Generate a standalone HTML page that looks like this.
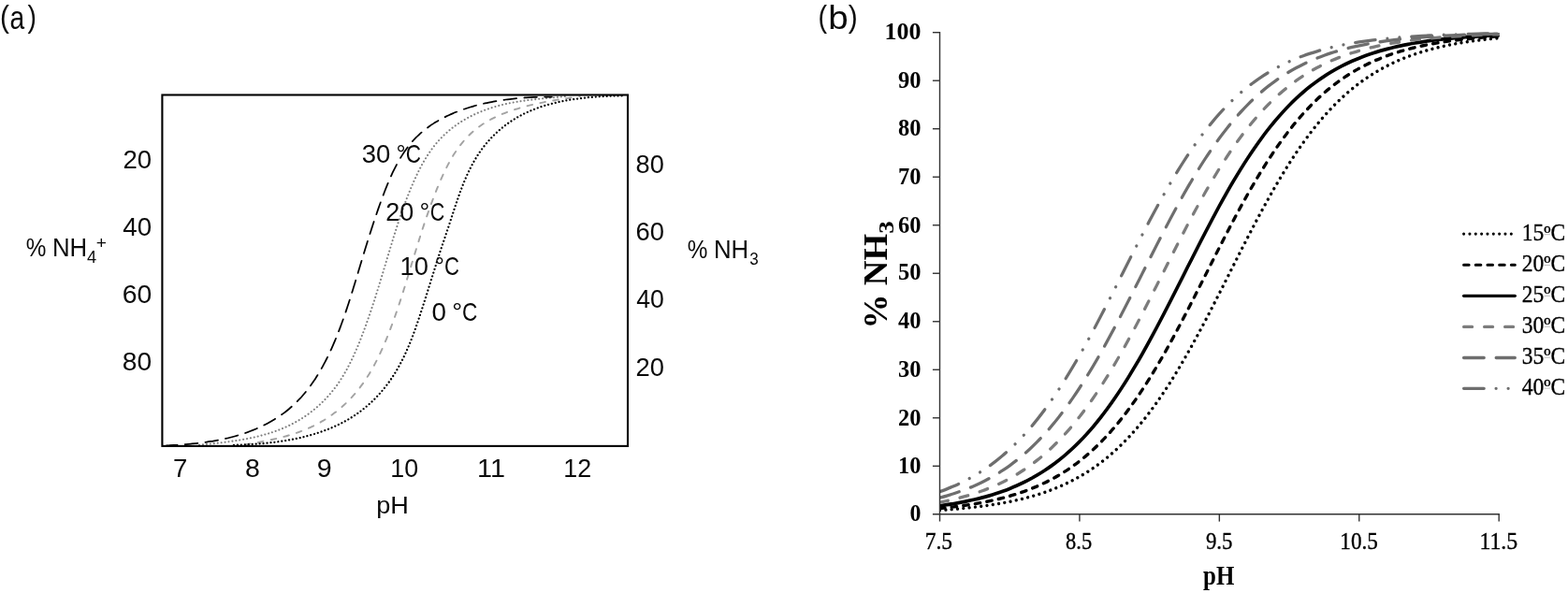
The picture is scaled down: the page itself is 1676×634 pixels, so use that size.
<!DOCTYPE html>
<html lang="en"><head><meta charset="utf-8"><title>Ammonia / ammonium equilibrium vs pH</title>
<style>html,body{margin:0;padding:0;background:#fff}body{width:1676px;height:634px;overflow:hidden}</style>
</head><body>
<svg width="1676" height="634" viewBox="0 0 1676 634" style="display:block">
<rect width="1676" height="634" fill="#fff"/>
<g id="chartA">
<g fill="none">
<path d="M261.93,475.38C262.57,475.27 264.47,474.96 265.75,474.74C267.03,474.52 268.31,474.30 269.59,474.08C270.87,473.86 272.15,473.63 273.44,473.40C274.73,473.17 276.03,472.94 277.32,472.70C278.61,472.46 279.90,472.21 281.20,471.96C282.50,471.71 283.79,471.45 285.09,471.19C286.39,470.93 287.68,470.66 288.98,470.38C290.28,470.10 291.57,469.81 292.87,469.52C294.17,469.22 295.46,468.92 296.76,468.61C298.06,468.30 299.35,467.97 300.64,467.64C301.93,467.31 303.22,466.97 304.51,466.62C305.80,466.27 307.08,465.90 308.36,465.53C309.64,465.15 310.92,464.77 312.19,464.37C313.46,463.97 314.73,463.56 315.99,463.13C317.25,462.70 318.51,462.27 319.77,461.82C321.02,461.37 322.27,460.89 323.52,460.41C324.76,459.93 326.01,459.43 327.24,458.92C328.47,458.41 329.69,457.88 330.91,457.33C332.13,456.78 333.34,456.23 334.54,455.65C335.74,455.07 336.94,454.47 338.13,453.85C339.32,453.23 340.49,452.60 341.66,451.95C342.83,451.30 343.99,450.62 345.14,449.93C346.29,449.24 347.44,448.54 348.57,447.81C349.70,447.08 350.82,446.34 351.93,445.58C353.04,444.82 354.13,444.05 355.22,443.26C356.31,442.47 357.38,441.66 358.45,440.84C359.51,440.02 360.57,439.18 361.61,438.33C362.65,437.48 363.67,436.61 364.68,435.73C365.69,434.85 366.69,433.96 367.68,433.06C368.67,432.16 369.63,431.24 370.59,430.31C371.55,429.38 372.49,428.44 373.42,427.49C374.35,426.54 375.25,425.58 376.15,424.60C377.04,423.62 377.93,422.63 378.79,421.64C379.65,420.64 380.50,419.64 381.33,418.63C382.16,417.62 382.99,416.59 383.79,415.56C384.60,414.53 385.38,413.49 386.16,412.44C386.94,411.39 387.70,410.33 388.45,409.26C389.20,408.19 389.94,407.11 390.66,406.03C391.39,404.94 392.10,403.85 392.80,402.75C393.50,401.65 394.18,400.54 394.86,399.42C395.54,398.30 396.20,397.17 396.86,396.04C397.52,394.91 398.17,393.77 398.80,392.62C399.44,391.47 400.06,390.32 400.67,389.16C401.29,388.00 401.89,386.83 402.49,385.66C403.09,384.49 403.68,383.31 404.26,382.13C404.84,380.94 405.41,379.75 405.97,378.55C406.53,377.35 407.09,376.16 407.64,374.95C408.19,373.74 408.73,372.53 409.27,371.31C409.81,370.09 410.34,368.87 410.86,367.64C411.38,366.41 411.91,365.19 412.42,363.95C412.93,362.71 413.44,361.48 413.94,360.23C414.44,358.99 414.94,357.73 415.43,356.48C415.92,355.23 416.41,353.98 416.89,352.72C417.37,351.46 417.85,350.19 418.32,348.93C418.79,347.67 419.26,346.40 419.73,345.13C420.20,343.86 420.66,342.59 421.11,341.32C421.56,340.05 422.01,338.77 422.46,337.49C422.91,336.21 423.36,334.93 423.80,333.65C424.24,332.37 424.68,331.09 425.11,329.80C425.54,328.51 425.97,327.23 426.40,325.94C426.83,324.65 427.25,323.37 427.67,322.08C428.09,320.79 428.50,319.50 428.92,318.21C429.34,316.92 429.75,315.64 430.16,314.35C430.57,313.06 430.98,311.77 431.38,310.48C431.78,309.19 432.19,307.91 432.59,306.62C432.99,305.33 433.38,304.05 433.78,302.77C434.17,301.49 434.57,300.20 434.96,298.92C435.35,297.64 435.75,296.36 436.14,295.08C436.53,293.80 436.92,292.53 437.31,291.25C437.70,289.97 438.09,288.69 438.47,287.42C438.86,286.15 439.24,284.88 439.62,283.61C440.00,282.34 440.39,281.08 440.78,279.81C441.16,278.54 441.55,277.27 441.93,276.01C442.31,274.75 442.69,273.48 443.08,272.22C443.46,270.96 443.85,269.69 444.24,268.43C444.63,267.17 445.01,265.92 445.40,264.66C445.79,263.40 446.18,262.14 446.57,260.88C446.96,259.62 447.35,258.37 447.74,257.11C448.13,255.86 448.53,254.60 448.93,253.35C449.33,252.10 449.72,250.84 450.12,249.59C450.52,248.34 450.92,247.08 451.33,245.83C451.74,244.58 452.15,243.33 452.56,242.08C452.97,240.83 453.38,239.57 453.80,238.32C454.22,237.07 454.64,235.82 455.06,234.57C455.48,233.32 455.91,232.07 456.34,230.82C456.77,229.57 457.20,228.32 457.64,227.07C458.08,225.82 458.51,224.57 458.96,223.32C459.41,222.07 459.86,220.82 460.32,219.57C460.78,218.32 461.24,217.06 461.70,215.81C462.16,214.56 462.63,213.31 463.10,212.06C463.57,210.81 464.05,209.55 464.54,208.30C465.03,207.05 465.52,205.79 466.02,204.54C466.52,203.29 467.01,202.03 467.52,200.78C468.03,199.53 468.55,198.28 469.07,197.03C469.59,195.78 470.12,194.53 470.66,193.29C471.20,192.04 471.74,190.80 472.30,189.56C472.86,188.32 473.43,187.10 474.00,185.87C474.57,184.64 475.16,183.41 475.75,182.20C476.34,180.98 476.95,179.78 477.56,178.58C478.17,177.38 478.79,176.18 479.43,175.00C480.07,173.82 480.72,172.64 481.38,171.48C482.04,170.31 482.71,169.15 483.40,168.01C484.08,166.87 484.78,165.73 485.49,164.61C486.20,163.49 486.93,162.38 487.67,161.29C488.41,160.19 489.17,159.11 489.94,158.04C490.71,156.97 491.50,155.92 492.30,154.88C493.10,153.84 493.92,152.82 494.75,151.82C495.58,150.81 496.44,149.82 497.31,148.85C498.18,147.88 499.06,146.93 499.96,145.99C500.86,145.06 501.79,144.14 502.73,143.24C503.67,142.34 504.62,141.47 505.60,140.61C506.58,139.76 507.58,138.92 508.60,138.11C509.62,137.30 510.65,136.51 511.70,135.74C512.75,134.97 513.83,134.21 514.92,133.48C516.01,132.75 517.11,132.04 518.23,131.35C519.35,130.66 520.48,129.99 521.63,129.33C522.78,128.68 523.94,128.04 525.12,127.42C526.30,126.80 527.49,126.21 528.69,125.62C529.89,125.03 531.10,124.46 532.32,123.91C533.54,123.36 534.78,122.83 536.02,122.31C537.26,121.79 538.51,121.28 539.77,120.79C541.03,120.30 542.30,119.83 543.57,119.37C544.84,118.91 546.12,118.45 547.40,118.02C548.68,117.58 549.98,117.17 551.27,116.76C552.56,116.35 553.87,115.96 555.17,115.58C556.47,115.20 557.78,114.82 559.08,114.46C560.38,114.10 561.69,113.75 563.00,113.41C564.31,113.07 565.63,112.75 566.94,112.43C568.25,112.11 569.57,111.80 570.88,111.50C572.19,111.20 573.52,110.91 574.83,110.63C576.14,110.35 577.45,110.08 578.77,109.81C580.09,109.54 581.40,109.28 582.72,109.03C584.04,108.78 585.35,108.54 586.66,108.30C587.97,108.06 589.29,107.83 590.60,107.60C591.91,107.37 593.21,107.15 594.52,106.93C595.83,106.71 597.14,106.51 598.44,106.30C599.74,106.09 601.04,105.89 602.34,105.69C603.64,105.49 604.93,105.28 606.22,105.09C607.51,104.90 608.80,104.71 610.08,104.52C611.36,104.33 612.64,104.14 613.92,103.95C615.19,103.76 616.74,103.55 617.73,103.40C618.72,103.26 619.50,103.13 619.86,103.08" stroke="#a3a3a3" stroke-width="1.9" stroke-dasharray="5.7 8.4" stroke-dashoffset="0" stroke-linecap="round"/>
<path d="M213.00,475.72C213.63,475.66 215.53,475.46 216.81,475.33C218.09,475.20 219.37,475.06 220.65,474.93C221.94,474.80 223.23,474.66 224.52,474.53C225.81,474.39 227.11,474.26 228.41,474.12C229.71,473.98 231.01,473.84 232.32,473.69C233.63,473.54 234.94,473.39 236.25,473.24C237.56,473.09 238.88,472.93 240.19,472.76C241.50,472.59 242.82,472.43 244.14,472.25C245.46,472.07 246.79,471.89 248.11,471.70C249.43,471.51 250.75,471.32 252.07,471.12C253.39,470.92 254.71,470.71 256.03,470.49C257.35,470.27 258.68,470.05 260.00,469.81C261.32,469.57 262.63,469.33 263.95,469.08C265.27,468.83 266.59,468.57 267.90,468.30C269.21,468.03 270.52,467.75 271.83,467.45C273.14,467.15 274.45,466.85 275.75,466.53C277.05,466.21 278.35,465.89 279.64,465.55C280.93,465.21 282.22,464.86 283.51,464.49C284.80,464.12 286.08,463.75 287.36,463.35C288.64,462.96 289.91,462.54 291.17,462.12C292.44,461.70 293.70,461.26 294.95,460.81C296.20,460.36 297.45,459.88 298.69,459.40C299.93,458.91 301.17,458.42 302.40,457.90C303.63,457.38 304.85,456.84 306.06,456.29C307.27,455.74 308.48,455.17 309.67,454.58C310.87,453.99 312.05,453.39 313.23,452.77C314.41,452.15 315.57,451.50 316.73,450.84C317.89,450.18 319.04,449.51 320.18,448.82C321.32,448.13 322.45,447.42 323.57,446.70C324.69,445.98 325.79,445.24 326.89,444.48C327.99,443.73 329.07,442.96 330.14,442.17C331.21,441.38 332.27,440.58 333.32,439.77C334.37,438.95 335.41,438.12 336.43,437.28C337.45,436.43 338.46,435.57 339.46,434.70C340.46,433.83 341.44,432.94 342.41,432.04C343.38,431.14 344.33,430.23 345.27,429.30C346.21,428.37 347.13,427.43 348.04,426.47C348.95,425.52 349.85,424.55 350.73,423.57C351.61,422.59 352.47,421.60 353.31,420.60C354.15,419.60 354.99,418.58 355.80,417.55C356.62,416.52 357.41,415.49 358.20,414.44C358.99,413.39 359.75,412.33 360.51,411.26C361.27,410.19 362.01,409.11 362.74,408.02C363.47,406.93 364.18,405.83 364.88,404.72C365.58,403.61 366.27,402.50 366.95,401.37C367.63,400.25 368.29,399.11 368.94,397.97C369.59,396.83 370.24,395.68 370.87,394.52C371.50,393.36 372.12,392.20 372.73,391.03C373.34,389.86 373.94,388.68 374.53,387.49C375.12,386.31 375.70,385.12 376.27,383.92C376.84,382.73 377.40,381.52 377.95,380.32C378.50,379.12 379.05,377.90 379.59,376.69C380.13,375.48 380.66,374.25 381.18,373.03C381.70,371.81 382.22,370.58 382.73,369.35C383.24,368.12 383.74,366.88 384.24,365.65C384.74,364.41 385.22,363.18 385.71,361.94C386.19,360.70 386.67,359.45 387.15,358.21C387.63,356.96 388.10,355.72 388.57,354.47C389.04,353.22 389.49,351.98 389.95,350.73C390.41,349.48 390.87,348.23 391.32,346.98C391.77,345.73 392.22,344.47 392.66,343.22C393.10,341.97 393.55,340.72 393.98,339.46C394.42,338.20 394.84,336.94 395.27,335.68C395.70,334.42 396.13,333.17 396.55,331.91C396.97,330.65 397.39,329.38 397.81,328.12C398.23,326.86 398.64,325.59 399.05,324.33C399.46,323.07 399.87,321.81 400.28,320.54C400.69,319.28 401.10,318.01 401.50,316.74C401.90,315.47 402.30,314.20 402.70,312.93C403.10,311.66 403.50,310.40 403.89,309.13C404.28,307.86 404.68,306.58 405.07,305.31C405.46,304.04 405.85,302.77 406.24,301.50C406.63,300.23 407.01,298.95 407.40,297.68C407.79,296.41 408.17,295.12 408.56,293.85C408.95,292.58 409.34,291.30 409.72,290.03C410.11,288.75 410.49,287.48 410.87,286.20C411.25,284.92 411.64,283.65 412.02,282.37C412.40,281.09 412.78,279.82 413.16,278.54C413.54,277.26 413.93,275.99 414.31,274.71C414.69,273.43 415.07,272.16 415.46,270.88C415.84,269.60 416.23,268.32 416.62,267.04C417.01,265.76 417.39,264.49 417.78,263.21C418.17,261.93 418.55,260.66 418.94,259.38C419.33,258.10 419.73,256.83 420.12,255.55C420.51,254.27 420.90,253.00 421.30,251.72C421.70,250.44 422.10,249.16 422.50,247.89C422.90,246.61 423.30,245.34 423.71,244.07C424.12,242.80 424.53,241.53 424.94,240.26C425.35,238.99 425.77,237.73 426.19,236.46C426.61,235.19 427.02,233.93 427.45,232.66C427.88,231.39 428.31,230.13 428.74,228.87C429.18,227.61 429.62,226.36 430.06,225.10C430.50,223.84 430.94,222.58 431.39,221.33C431.84,220.08 432.30,218.83 432.76,217.58C433.22,216.33 433.69,215.08 434.16,213.84C434.63,212.60 435.11,211.36 435.59,210.12C436.07,208.88 436.56,207.65 437.05,206.42C437.54,205.19 438.05,203.96 438.55,202.73C439.06,201.50 439.56,200.28 440.08,199.06C440.60,197.84 441.13,196.62 441.66,195.41C442.19,194.20 442.72,193.00 443.27,191.79C443.82,190.58 444.38,189.38 444.94,188.18C445.50,186.98 446.07,185.80 446.65,184.61C447.23,183.42 447.82,182.24 448.42,181.06C449.02,179.88 449.63,178.72 450.25,177.56C450.87,176.40 451.50,175.25 452.15,174.10C452.80,172.95 453.46,171.82 454.13,170.69C454.80,169.56 455.48,168.44 456.18,167.33C456.88,166.22 457.60,165.13 458.33,164.04C459.06,162.95 459.81,161.88 460.57,160.81C461.33,159.74 462.11,158.68 462.91,157.64C463.71,156.60 464.52,155.57 465.35,154.56C466.18,153.55 467.03,152.54 467.89,151.55C468.75,150.56 469.63,149.59 470.53,148.63C471.42,147.67 472.33,146.73 473.26,145.80C474.19,144.87 475.13,143.96 476.09,143.06C477.05,142.16 478.02,141.29 479.01,140.43C480.00,139.57 481.00,138.73 482.01,137.91C483.02,137.09 484.06,136.28 485.10,135.49C486.14,134.70 487.20,133.93 488.27,133.18C489.34,132.43 490.42,131.70 491.52,130.99C492.62,130.28 493.73,129.58 494.85,128.90C495.97,128.22 497.10,127.55 498.24,126.91C499.38,126.27 500.53,125.64 501.70,125.03C502.87,124.42 504.05,123.83 505.23,123.25C506.42,122.67 507.61,122.11 508.81,121.57C510.01,121.02 511.22,120.49 512.44,119.98C513.66,119.47 514.89,118.98 516.13,118.50C517.37,118.02 518.62,117.55 519.87,117.10C521.12,116.65 522.38,116.22 523.64,115.80C524.90,115.38 526.18,114.98 527.46,114.59C528.74,114.20 530.02,113.82 531.31,113.46C532.60,113.10 533.89,112.76 535.19,112.43C536.49,112.10 537.79,111.78 539.10,111.47C540.41,111.16 541.72,110.88 543.04,110.60C544.36,110.32 545.67,110.06 546.99,109.81C548.31,109.56 549.64,109.31 550.96,109.08C552.28,108.85 553.60,108.63 554.93,108.42C556.26,108.21 557.59,108.00 558.92,107.81C560.25,107.62 561.58,107.43 562.91,107.25C564.24,107.07 565.57,106.90 566.90,106.74C568.23,106.58 569.55,106.42 570.88,106.27C572.21,106.12 573.53,105.98 574.86,105.84C576.19,105.70 577.51,105.56 578.83,105.43C580.15,105.30 581.46,105.17 582.77,105.04C584.08,104.91 585.39,104.79 586.70,104.67C588.01,104.55 589.31,104.43 590.61,104.31C591.91,104.19 593.19,104.07 594.48,103.95C595.77,103.83 597.05,103.71 598.33,103.59C599.61,103.47 600.91,103.34 602.14,103.22C603.37,103.10 605.11,102.92 605.70,102.86" stroke="#7f7f7f" stroke-width="2.1" stroke-dasharray="0.01 3.95" stroke-dashoffset="0" stroke-linecap="round"/>
<path d="M249.95,475.82C250.61,475.80 252.61,475.74 253.94,475.69C255.27,475.64 256.60,475.60 257.93,475.55C259.26,475.50 260.59,475.43 261.92,475.37C263.25,475.31 264.58,475.24 265.91,475.17C267.24,475.10 268.57,475.01 269.90,474.93C271.23,474.85 272.55,474.76 273.88,474.66C275.21,474.56 276.54,474.46 277.87,474.35C279.20,474.24 280.53,474.13 281.85,474.01C283.18,473.89 284.50,473.76 285.82,473.62C287.14,473.48 288.47,473.34 289.79,473.19C291.11,473.04 292.43,472.89 293.75,472.72C295.07,472.55 296.39,472.37 297.71,472.19C299.03,472.01 300.35,471.82 301.66,471.62C302.98,471.42 304.29,471.21 305.60,470.99C306.91,470.77 308.22,470.55 309.53,470.31C310.84,470.07 312.14,469.82 313.45,469.56C314.75,469.30 316.06,469.04 317.36,468.76C318.66,468.48 319.95,468.20 321.25,467.90C322.55,467.60 323.85,467.29 325.14,466.97C326.43,466.65 327.72,466.32 329.01,465.97C330.30,465.62 331.58,465.27 332.86,464.90C334.14,464.53 335.42,464.16 336.69,463.77C337.96,463.38 339.23,462.97 340.49,462.55C341.75,462.13 343.01,461.70 344.27,461.26C345.52,460.82 346.78,460.36 348.02,459.89C349.26,459.42 350.50,458.94 351.73,458.44C352.96,457.94 354.19,457.43 355.41,456.90C356.63,456.37 357.84,455.83 359.04,455.28C360.25,454.72 361.45,454.16 362.64,453.57C363.83,452.98 365.01,452.38 366.18,451.76C367.35,451.14 368.52,450.52 369.68,449.87C370.84,449.22 371.98,448.55 373.12,447.87C374.26,447.19 375.39,446.49 376.51,445.78C377.63,445.07 378.74,444.33 379.84,443.59C380.94,442.84 382.02,442.09 383.10,441.31C384.18,440.53 385.24,439.74 386.30,438.93C387.36,438.12 388.41,437.30 389.44,436.46C390.47,435.62 391.49,434.78 392.50,433.91C393.51,433.05 394.51,432.16 395.49,431.27C396.47,430.38 397.44,429.47 398.40,428.55C399.36,427.63 400.30,426.70 401.23,425.75C402.16,424.80 403.08,423.84 403.98,422.87C404.88,421.90 405.77,420.92 406.65,419.93C407.52,418.94 408.38,417.93 409.23,416.91C410.08,415.89 410.91,414.87 411.73,413.83C412.55,412.79 413.36,411.74 414.15,410.68C414.94,409.62 415.73,408.55 416.49,407.47C417.25,406.39 418.00,405.31 418.74,404.21C419.48,403.11 420.21,402.01 420.92,400.89C421.63,399.77 422.33,398.64 423.01,397.51C423.69,396.38 424.36,395.24 425.02,394.09C425.68,392.94 426.32,391.78 426.96,390.62C427.59,389.46 428.22,388.29 428.83,387.11C429.44,385.93 430.05,384.75 430.64,383.56C431.23,382.37 431.80,381.17 432.37,379.97C432.94,378.77 433.50,377.56 434.05,376.35C434.60,375.14 435.14,373.92 435.67,372.69C436.20,371.46 436.73,370.23 437.24,369.00C437.75,367.77 438.26,366.53 438.76,365.29C439.26,364.05 439.75,362.81 440.23,361.56C440.71,360.31 441.19,359.06 441.66,357.80C442.13,356.55 442.60,355.29 443.06,354.03C443.52,352.77 443.96,351.50 444.41,350.24C444.86,348.98 445.30,347.71 445.74,346.44C446.18,345.17 446.61,343.91 447.04,342.64C447.47,341.37 447.89,340.10 448.31,338.83C448.73,337.56 449.14,336.28 449.56,335.01C449.98,333.74 450.39,332.46 450.80,331.19C451.21,329.92 451.61,328.65 452.02,327.38C452.43,326.11 452.84,324.85 453.24,323.58C453.64,322.31 454.04,321.04 454.44,319.78C454.84,318.51 455.24,317.25 455.64,315.99C456.04,314.73 456.44,313.46 456.84,312.20C457.24,310.94 457.63,309.68 458.03,308.42C458.42,307.16 458.82,305.91 459.21,304.65C459.60,303.39 460.00,302.13 460.39,300.87C460.78,299.61 461.18,298.37 461.57,297.11C461.96,295.86 462.36,294.59 462.75,293.34C463.14,292.08 463.54,290.83 463.93,289.58C464.32,288.32 464.71,287.06 465.10,285.81C465.49,284.56 465.88,283.31 466.28,282.05C466.68,280.80 467.08,279.54 467.48,278.28C467.88,277.02 468.28,275.77 468.69,274.51C469.10,273.25 469.51,272.00 469.93,270.74C470.35,269.48 470.76,268.23 471.18,266.97C471.60,265.71 472.02,264.45 472.44,263.19C472.86,261.93 473.28,260.66 473.71,259.40C474.13,258.14 474.56,256.88 474.99,255.61C475.42,254.35 475.84,253.08 476.27,251.81C476.70,250.54 477.12,249.27 477.55,248.00C477.98,246.73 478.40,245.46 478.83,244.19C479.25,242.92 479.68,241.64 480.10,240.36C480.52,239.08 480.94,237.80 481.36,236.52C481.78,235.24 482.19,233.96 482.61,232.68C483.03,231.40 483.44,230.12 483.86,228.84C484.28,227.56 484.69,226.27 485.11,224.99C485.53,223.71 485.95,222.43 486.38,221.15C486.81,219.87 487.23,218.59 487.66,217.31C488.09,216.03 488.53,214.76 488.97,213.49C489.41,212.22 489.85,210.95 490.30,209.68C490.75,208.41 491.20,207.15 491.66,205.89C492.12,204.63 492.60,203.36 493.07,202.11C493.54,200.86 494.02,199.61 494.51,198.37C495.00,197.13 495.49,195.88 496.00,194.65C496.51,193.42 497.02,192.19 497.55,190.97C498.08,189.75 498.61,188.53 499.16,187.32C499.71,186.11 500.26,184.91 500.83,183.71C501.40,182.51 501.98,181.32 502.57,180.14C503.16,178.96 503.76,177.78 504.38,176.62C505.00,175.46 505.63,174.30 506.28,173.15C506.93,172.00 507.59,170.86 508.27,169.73C508.95,168.60 509.63,167.48 510.34,166.37C511.05,165.26 511.78,164.16 512.52,163.07C513.26,161.98 514.01,160.90 514.79,159.83C515.56,158.76 516.36,157.70 517.17,156.66C517.98,155.62 518.81,154.58 519.66,153.56C520.51,152.54 521.37,151.53 522.25,150.54C523.13,149.55 524.03,148.57 524.94,147.60C525.85,146.63 526.78,145.68 527.72,144.74C528.66,143.80 529.62,142.89 530.59,141.98C531.56,141.07 532.55,140.18 533.55,139.30C534.55,138.43 535.56,137.57 536.59,136.73C537.62,135.89 538.66,135.06 539.71,134.25C540.76,133.44 541.83,132.66 542.91,131.89C543.99,131.12 545.08,130.36 546.18,129.63C547.28,128.90 548.39,128.19 549.52,127.49C550.64,126.79 551.78,126.11 552.93,125.45C554.08,124.79 555.23,124.15 556.40,123.53C557.57,122.91 558.74,122.31 559.93,121.72C561.12,121.13 562.31,120.56 563.51,120.01C564.71,119.46 565.93,118.93 567.15,118.41C568.37,117.89 569.60,117.39 570.84,116.91C572.08,116.43 573.32,115.96 574.57,115.51C575.82,115.06 577.08,114.62 578.34,114.20C579.61,113.78 580.88,113.37 582.16,112.98C583.44,112.59 584.71,112.20 586.00,111.84C587.29,111.48 588.58,111.13 589.88,110.79C591.18,110.45 592.48,110.13 593.79,109.82C595.10,109.51 596.41,109.22 597.73,108.93C599.05,108.65 600.36,108.37 601.68,108.11C603.00,107.85 604.33,107.60 605.66,107.36C606.99,107.12 608.32,106.89 609.65,106.67C610.98,106.45 612.32,106.24 613.66,106.04C615.00,105.84 616.33,105.66 617.67,105.48C619.01,105.30 620.35,105.13 621.69,104.97C623.03,104.81 624.37,104.65 625.71,104.51C627.05,104.37 628.39,104.23 629.73,104.11C631.07,103.98 632.40,103.87 633.74,103.76C635.08,103.65 636.41,103.55 637.75,103.45C639.09,103.36 640.42,103.27 641.75,103.19C643.08,103.11 644.41,103.03 645.73,102.97C647.05,102.91 648.37,102.85 649.69,102.80C651.01,102.75 652.33,102.70 653.64,102.66C654.95,102.62 656.26,102.59 657.56,102.56C658.86,102.53 660.16,102.51 661.45,102.49C662.74,102.47 664.25,102.46 665.31,102.45C666.37,102.44 667.40,102.44 667.82,102.44" stroke="#000" stroke-width="2.25" stroke-dasharray="0.01 3.95" stroke-dashoffset="0" stroke-linecap="round"/>
<path d="M178.04,476.38C178.67,476.35 180.55,476.26 181.82,476.19C183.09,476.12 184.37,476.05 185.65,475.98C186.93,475.91 188.21,475.83 189.50,475.75C190.79,475.67 192.09,475.58 193.39,475.49C194.69,475.40 195.99,475.30 197.30,475.19C198.61,475.08 199.91,474.98 201.23,474.86C202.54,474.74 203.87,474.62 205.19,474.49C206.51,474.36 207.83,474.22 209.15,474.08C210.47,473.94 211.80,473.79 213.13,473.63C214.46,473.47 215.79,473.31 217.12,473.13C218.45,472.95 219.78,472.77 221.11,472.58C222.44,472.39 223.78,472.18 225.11,471.97C226.44,471.76 227.77,471.53 229.10,471.30C230.43,471.07 231.76,470.83 233.09,470.58C234.42,470.33 235.74,470.06 237.06,469.79C238.38,469.52 239.71,469.23 241.03,468.93C242.35,468.63 243.66,468.33 244.97,468.01C246.28,467.69 247.59,467.36 248.90,467.01C250.21,466.66 251.51,466.30 252.81,465.93C254.11,465.56 255.39,465.18 256.68,464.78C257.97,464.38 259.25,463.97 260.53,463.54C261.81,463.11 263.07,462.67 264.34,462.21C265.60,461.75 266.87,461.29 268.12,460.80C269.37,460.31 270.61,459.81 271.85,459.30C273.09,458.79 274.33,458.25 275.55,457.71C276.77,457.17 277.99,456.61 279.19,456.04C280.39,455.47 281.59,454.88 282.78,454.28C283.97,453.68 285.14,453.06 286.31,452.43C287.48,451.80 288.64,451.15 289.79,450.49C290.94,449.83 292.08,449.15 293.21,448.46C294.34,447.77 295.45,447.06 296.56,446.34C297.67,445.62 298.76,444.88 299.84,444.13C300.92,443.38 301.98,442.61 303.04,441.83C304.10,441.05 305.15,440.25 306.18,439.44C307.21,438.63 308.23,437.80 309.23,436.96C310.23,436.12 311.23,435.26 312.20,434.39C313.17,433.52 314.13,432.62 315.08,431.72C316.03,430.82 316.96,429.90 317.88,428.97C318.80,428.04 319.71,427.10 320.60,426.14C321.49,425.18 322.37,424.21 323.23,423.22C324.10,422.23 324.95,421.23 325.79,420.22C326.63,419.21 327.45,418.19 328.27,417.16C329.08,416.13 329.89,415.08 330.68,414.02C331.47,412.96 332.25,411.90 333.01,410.82C333.77,409.74 334.53,408.65 335.27,407.55C336.01,406.45 336.75,405.35 337.47,404.23C338.19,403.11 338.90,401.99 339.60,400.85C340.30,399.72 340.99,398.57 341.67,397.42C342.35,396.27 343.02,395.11 343.68,393.94C344.34,392.77 344.98,391.60 345.62,390.42C346.26,389.24 346.89,388.05 347.51,386.86C348.13,385.67 348.75,384.46 349.35,383.26C349.95,382.06 350.55,380.84 351.13,379.63C351.71,378.42 352.29,377.20 352.86,375.97C353.43,374.75 353.99,373.51 354.54,372.28C355.09,371.05 355.63,369.82 356.17,368.58C356.71,367.34 357.24,366.10 357.76,364.85C358.28,363.61 358.80,362.36 359.31,361.11C359.82,359.86 360.32,358.61 360.82,357.36C361.32,356.11 361.81,354.86 362.29,353.60C362.77,352.35 363.25,351.09 363.72,349.83C364.19,348.57 364.66,347.32 365.12,346.06C365.58,344.80 366.03,343.54 366.48,342.28C366.93,341.02 367.38,339.75 367.82,338.49C368.26,337.23 368.70,335.96 369.13,334.69C369.56,333.42 369.99,332.16 370.41,330.89C370.83,329.62 371.25,328.36 371.67,327.09C372.09,325.82 372.50,324.56 372.91,323.29C373.32,322.02 373.73,320.75 374.13,319.48C374.53,318.21 374.93,316.94 375.33,315.67C375.73,314.40 376.13,313.13 376.52,311.86C376.91,310.59 377.30,309.32 377.69,308.05C378.08,306.78 378.47,305.51 378.86,304.24C379.25,302.97 379.63,301.70 380.01,300.43C380.39,299.16 380.78,297.90 381.16,296.63C381.54,295.36 381.92,294.10 382.30,292.83C382.68,291.56 383.06,290.29 383.44,289.03C383.82,287.76 384.20,286.50 384.58,285.24C384.96,283.98 385.35,282.71 385.73,281.45C386.11,280.19 386.49,278.92 386.87,277.66C387.25,276.40 387.63,275.14 388.01,273.88C388.39,272.62 388.79,271.35 389.17,270.09C389.56,268.83 389.93,267.57 390.32,266.31C390.71,265.05 391.10,263.79 391.49,262.53C391.88,261.27 392.27,260.01 392.66,258.75C393.05,257.49 393.45,256.23 393.85,254.97C394.25,253.71 394.64,252.45 395.04,251.19C395.44,249.93 395.84,248.66 396.25,247.40C396.66,246.14 397.07,244.88 397.48,243.62C397.89,242.36 398.31,241.09 398.72,239.83C399.14,238.57 399.55,237.31 399.97,236.04C400.39,234.77 400.82,233.51 401.25,232.24C401.68,230.97 402.11,229.71 402.54,228.44C402.98,227.17 403.42,225.90 403.86,224.63C404.30,223.36 404.75,222.09 405.20,220.82C405.65,219.55 406.11,218.28 406.57,217.00C407.03,215.72 407.49,214.45 407.96,213.17C408.43,211.89 408.90,210.62 409.38,209.34C409.86,208.06 410.34,206.78 410.83,205.51C411.32,204.23 411.82,202.96 412.32,201.69C412.82,200.42 413.33,199.14 413.85,197.88C414.37,196.62 414.90,195.36 415.43,194.10C415.96,192.84 416.50,191.59 417.05,190.34C417.60,189.09 418.16,187.86 418.73,186.62C419.30,185.38 419.88,184.15 420.47,182.93C421.06,181.71 421.67,180.50 422.28,179.30C422.89,178.10 423.51,176.90 424.15,175.72C424.79,174.54 425.44,173.36 426.10,172.20C426.76,171.04 427.43,169.88 428.12,168.74C428.81,167.60 429.50,166.47 430.22,165.36C430.94,164.25 431.67,163.15 432.41,162.06C433.16,160.97 433.92,159.90 434.69,158.84C435.46,157.78 436.25,156.74 437.06,155.72C437.87,154.70 438.69,153.69 439.53,152.70C440.37,151.71 441.23,150.74 442.10,149.78C442.98,148.82 443.87,147.89 444.78,146.97C445.69,146.05 446.62,145.16 447.57,144.28C448.51,143.40 449.47,142.53 450.45,141.69C451.43,140.84 452.42,140.02 453.43,139.21C454.44,138.40 455.46,137.62 456.50,136.84C457.54,136.06 458.59,135.30 459.66,134.56C460.73,133.82 461.81,133.10 462.90,132.39C463.99,131.68 465.09,130.99 466.21,130.31C467.33,129.63 468.46,128.97 469.60,128.33C470.74,127.69 471.89,127.06 473.06,126.45C474.23,125.84 475.40,125.23 476.59,124.65C477.78,124.07 478.98,123.50 480.18,122.95C481.38,122.40 482.60,121.86 483.82,121.34C485.04,120.82 486.28,120.31 487.52,119.81C488.76,119.31 490.01,118.83 491.27,118.36C492.53,117.89 493.79,117.44 495.06,117.00C496.33,116.56 497.61,116.12 498.89,115.71C500.17,115.29 501.46,114.90 502.75,114.51C504.04,114.12 505.34,113.75 506.65,113.38C507.95,113.01 509.27,112.66 510.58,112.32C511.89,111.98 513.21,111.66 514.53,111.34C515.85,111.02 517.16,110.72 518.49,110.42C519.82,110.12 521.15,109.84 522.48,109.57C523.81,109.30 525.14,109.04 526.47,108.79C527.80,108.54 529.13,108.30 530.47,108.07C531.81,107.84 533.14,107.63 534.48,107.42C535.82,107.21 537.16,107.01 538.50,106.82C539.84,106.63 541.17,106.45 542.51,106.28C543.85,106.11 545.19,105.94 546.53,105.79C547.87,105.64 549.20,105.50 550.54,105.36C551.88,105.22 553.21,105.10 554.54,104.98C555.87,104.86 557.21,104.75 558.54,104.65C559.87,104.55 561.19,104.45 562.52,104.36C563.85,104.27 565.17,104.19 566.49,104.12C567.81,104.05 569.13,103.99 570.44,103.93C571.75,103.87 573.06,103.82 574.37,103.77C575.68,103.72 576.98,103.68 578.28,103.65C579.58,103.62 580.87,103.59 582.16,103.57C583.45,103.55 584.74,103.54 586.02,103.53C587.30,103.52 589.21,103.52 589.85,103.52" stroke="#000" stroke-width="1.75" stroke-dasharray="13.7 8.2" stroke-dashoffset="2.2" stroke-linecap="round"/>
</g>
<rect x="173.4" y="101.5" width="497.6" height="375.4" fill="none" stroke="#000" stroke-width="2.1"/>
<g fill="#0a0a0a">
<text y="31.3" font-family='"Liberation Sans", sans-serif'><tspan x="0.05" y="28.7" font-size="33.5" textLength="9.92" lengthAdjust="spacingAndGlyphs">(</tspan><tspan x="10.50" y="31.3" font-size="34.5" textLength="15.70" lengthAdjust="spacingAndGlyphs">a</tspan><tspan x="29.53" y="28.7" font-size="33.5" textLength="9.42" lengthAdjust="spacingAndGlyphs">)</tspan></text>
<text y="179.5" font-family='"Liberation Sans", sans-serif'><tspan x="131.51" font-size="27.4" textLength="30.66" lengthAdjust="spacingAndGlyphs">20</tspan></text>
<text y="251.7" font-family='"Liberation Sans", sans-serif'><tspan x="131.36" font-size="27.4" textLength="30.82" lengthAdjust="spacingAndGlyphs">40</tspan></text>
<text y="323.8" font-family='"Liberation Sans", sans-serif'><tspan x="130.66" font-size="27.4" textLength="31.55" lengthAdjust="spacingAndGlyphs">60</tspan></text>
<text y="395.9" font-family='"Liberation Sans", sans-serif'><tspan x="130.88" font-size="27.4" textLength="31.32" lengthAdjust="spacingAndGlyphs">80</tspan></text>
<text y="184.8" font-family='"Liberation Sans", sans-serif'><tspan x="679.62" font-size="27.4" textLength="30.24" lengthAdjust="spacingAndGlyphs">80</tspan></text>
<text y="257.0" font-family='"Liberation Sans", sans-serif'><tspan x="679.41" font-size="27.4">60</tspan></text>
<text y="329.3" font-family='"Liberation Sans", sans-serif'><tspan x="680.19" font-size="27.4" textLength="29.65" lengthAdjust="spacingAndGlyphs">40</tspan></text>
<text y="401.5" font-family='"Liberation Sans", sans-serif'><tspan x="679.42" font-size="27.4" textLength="30.45" lengthAdjust="spacingAndGlyphs">20</tspan></text>
<text y="510" font-family='"Liberation Sans", sans-serif'><tspan x="184.99" font-size="27.4" textLength="15.29" lengthAdjust="spacingAndGlyphs">7</tspan></text>
<text y="510" font-family='"Liberation Sans", sans-serif'><tspan x="262.06" font-size="27.4" textLength="15.88" lengthAdjust="spacingAndGlyphs">8</tspan></text>
<text y="510" font-family='"Liberation Sans", sans-serif'><tspan x="338.76" font-size="27.4" textLength="15.89" lengthAdjust="spacingAndGlyphs">9</tspan></text>
<text y="510" font-family='"Liberation Sans", sans-serif'><tspan x="417.28" font-size="27.4" textLength="29.87" lengthAdjust="spacingAndGlyphs">10</tspan></text>
<text y="510" font-family='"Liberation Sans", sans-serif'><tspan x="510.04" font-size="27.4" textLength="29.87" lengthAdjust="spacingAndGlyphs">11</tspan></text>
<text y="510" font-family='"Liberation Sans", sans-serif'><tspan x="602.28" font-size="27.4" textLength="29.87" lengthAdjust="spacingAndGlyphs">12</tspan></text>
<text y="549.4" font-family='"Liberation Sans", sans-serif'><tspan x="402.25" font-size="26.7" textLength="34.66" lengthAdjust="spacingAndGlyphs">pH</tspan></text>
<text y="274" font-family='"Liberation Sans", sans-serif'><tspan x="27.63" font-size="27.2" textLength="28.39" lengthAdjust="spacingAndGlyphs">% </tspan><tspan x="55.89" font-size="27.2" textLength="37.21" lengthAdjust="spacingAndGlyphs">NH</tspan><tspan x="93.08" y="281.2" font-size="19" textLength="10.15" lengthAdjust="spacingAndGlyphs">4</tspan><tspan x="102.77" y="265.8" font-size="19" textLength="11.18" lengthAdjust="spacingAndGlyphs">+</tspan></text>
<text y="275.9" font-family='"Liberation Sans", sans-serif'><tspan x="734.73" font-size="27.2" textLength="28.39" lengthAdjust="spacingAndGlyphs">% </tspan><tspan x="762.99" font-size="27.2" textLength="37.21" lengthAdjust="spacingAndGlyphs">NH</tspan><tspan x="801.35" y="283.1" font-size="19" textLength="9.50" lengthAdjust="spacingAndGlyphs">3</tspan></text>
<text y="174.2" font-family='"Liberation Sans", sans-serif'><tspan x="386.76" font-size="27.4" textLength="30.52" lengthAdjust="spacingAndGlyphs">30</tspan><tspan x="416.55" font-size="27.4" textLength="17.17" lengthAdjust="spacingAndGlyphs"> °</tspan><tspan x="433.86" font-size="27.4" textLength="16.19" lengthAdjust="spacingAndGlyphs">C</tspan></text>
<text y="236.2" font-family='"Liberation Sans", sans-serif'><tspan x="412.24" font-size="27.4" textLength="30.01" lengthAdjust="spacingAndGlyphs">20</tspan><tspan x="441.07" font-size="27.4" textLength="18.14" lengthAdjust="spacingAndGlyphs"> °</tspan><tspan x="459.71" font-size="27.4" textLength="15.51" lengthAdjust="spacingAndGlyphs">C</tspan></text>
<text y="294.4" font-family='"Liberation Sans", sans-serif'><tspan x="427.62" font-size="27.4" textLength="30.34" lengthAdjust="spacingAndGlyphs">10</tspan><tspan x="457.65" font-size="27.4" textLength="17.17" lengthAdjust="spacingAndGlyphs"> °</tspan><tspan x="475.08" font-size="27.4" textLength="15.96" lengthAdjust="spacingAndGlyphs">C</tspan></text>
<text y="343.2" font-family='"Liberation Sans", sans-serif'><tspan x="461.41" font-size="27.4" textLength="15.47" lengthAdjust="spacingAndGlyphs">0</tspan><tspan x="475.85" font-size="27.4" textLength="18.38" lengthAdjust="spacingAndGlyphs"> °</tspan><tspan x="493.95" font-size="27.4" textLength="16.31" lengthAdjust="spacingAndGlyphs">C</tspan></text>
</g></g>
<g id="chartB">
<clipPath id="plotB"><rect x="1004.5" y="0" width="598.5" height="634"/></clipPath>
<g fill="none" clip-path="url(#plotB)"><g transform="scale(1,1.045)">
<path d="M1004.50,521.98C1005.75,521.90 1009.48,521.66 1011.97,521.48C1014.46,521.31 1016.95,521.12 1019.44,520.92C1021.93,520.73 1024.42,520.52 1026.91,520.30C1029.40,520.08 1031.89,519.84 1034.38,519.60C1036.88,519.35 1039.37,519.09 1041.86,518.81C1044.35,518.53 1046.84,518.24 1049.33,517.93C1051.82,517.62 1054.31,517.30 1056.80,516.95C1059.29,516.61 1061.78,516.24 1064.27,515.86C1066.76,515.47 1069.25,515.06 1071.74,514.63C1074.23,514.20 1076.72,513.75 1079.21,513.27C1081.70,512.79 1084.19,512.28 1086.68,511.74C1089.17,511.21 1091.66,510.64 1094.15,510.05C1096.65,509.45 1099.14,508.82 1101.63,508.16C1104.12,507.49 1106.61,506.79 1109.10,506.05C1111.59,505.31 1114.08,504.54 1116.57,503.71C1119.06,502.89 1121.55,502.03 1124.04,501.12C1126.53,500.21 1129.02,499.25 1131.51,498.24C1134.00,497.23 1136.49,496.17 1138.98,495.05C1141.47,493.93 1143.96,492.76 1146.45,491.53C1148.94,490.29 1151.43,489.00 1153.92,487.64C1156.42,486.27 1158.91,484.85 1161.40,483.35C1163.89,481.85 1166.38,480.28 1168.87,478.63C1171.36,476.98 1173.85,475.26 1176.34,473.45C1178.83,471.65 1181.32,469.76 1183.81,467.79C1186.30,465.81 1188.79,463.76 1191.28,461.60C1193.77,459.45 1196.26,457.21 1198.75,454.87C1201.24,452.53 1203.73,450.09 1206.22,447.56C1208.71,445.02 1211.20,442.39 1213.70,439.65C1216.19,436.92 1218.68,434.08 1221.17,431.14C1223.66,428.19 1226.15,425.15 1228.64,421.99C1231.13,418.84 1233.62,415.58 1236.11,412.22C1238.60,408.86 1241.09,405.40 1243.58,401.83C1246.07,398.26 1248.56,394.59 1251.05,390.83C1253.54,387.06 1256.03,383.19 1258.52,379.24C1261.01,375.28 1263.50,371.23 1265.99,367.10C1268.48,362.97 1270.97,358.74 1273.47,354.45C1275.96,350.16 1278.45,345.78 1280.94,341.36C1283.43,336.93 1285.92,332.42 1288.41,327.88C1290.90,323.33 1293.39,318.73 1295.88,314.09C1298.37,309.46 1300.86,304.78 1303.35,300.09C1305.84,295.39 1308.33,290.67 1310.82,285.94C1313.31,281.22 1315.80,276.48 1318.29,271.76C1320.78,267.04 1323.27,262.32 1325.76,257.63C1328.25,252.94 1330.74,248.27 1333.23,243.64C1335.73,239.02 1338.22,234.42 1340.71,229.89C1343.20,225.36 1345.69,220.87 1348.18,216.45C1350.67,212.04 1353.16,207.68 1355.65,203.41C1358.14,199.13 1360.63,194.93 1363.12,190.81C1365.61,186.70 1368.10,182.67 1370.59,178.74C1373.08,174.80 1375.57,170.95 1378.06,167.21C1380.55,163.47 1383.04,159.82 1385.53,156.28C1388.02,152.73 1390.51,149.29 1393.01,145.95C1395.50,142.62 1397.99,139.38 1400.48,136.26C1402.97,133.13 1405.46,130.11 1407.95,127.19C1410.44,124.27 1412.93,121.45 1415.42,118.74C1417.91,116.03 1420.40,113.42 1422.89,110.90C1425.38,108.39 1427.87,105.98 1430.36,103.66C1432.85,101.34 1435.34,99.12 1437.83,96.99C1440.32,94.86 1442.81,92.82 1445.30,90.87C1447.79,88.91 1450.28,87.05 1452.78,85.26C1455.27,83.47 1457.76,81.77 1460.25,80.14C1462.74,78.51 1465.23,76.96 1467.72,75.47C1470.21,73.99 1472.70,72.58 1475.19,71.23C1477.68,69.88 1480.17,68.60 1482.66,67.38C1485.15,66.16 1487.64,65.00 1490.13,63.90C1492.62,62.79 1495.11,61.74 1497.60,60.74C1500.09,59.75 1502.58,58.80 1505.07,57.90C1507.56,57.00 1510.05,56.15 1512.55,55.33C1515.04,54.52 1517.53,53.76 1520.02,53.02C1522.51,52.29 1525.00,51.60 1527.49,50.95C1529.98,50.29 1532.47,49.67 1534.96,49.08C1537.45,48.49 1539.94,47.93 1542.43,47.40C1544.92,46.87 1547.41,46.37 1549.90,45.90C1552.39,45.42 1554.88,44.98 1557.37,44.55C1559.86,44.12 1562.35,43.72 1564.84,43.34C1567.33,42.96 1569.82,42.60 1572.32,42.26C1574.81,41.92 1577.30,41.60 1579.79,41.29C1582.28,40.99 1584.77,40.70 1587.26,40.43C1589.75,40.15 1592.24,39.89 1594.73,39.65C1597.22,39.41 1600.95,39.07 1602.20,38.96" stroke="#000" stroke-width="3.3" stroke-dasharray="0.01 6.33" stroke-linecap="round"/>
<path d="M1004.50,520.09C1005.75,519.97 1009.48,519.62 1011.97,519.36C1014.46,519.10 1016.95,518.83 1019.44,518.55C1021.93,518.26 1024.42,517.96 1026.91,517.64C1029.40,517.32 1031.89,516.98 1034.38,516.62C1036.88,516.26 1039.37,515.89 1041.86,515.49C1044.35,515.09 1046.84,514.67 1049.33,514.22C1051.82,513.78 1054.31,513.31 1056.80,512.81C1059.29,512.31 1061.78,511.79 1064.27,511.23C1066.76,510.68 1069.25,510.10 1071.74,509.48C1074.23,508.86 1076.72,508.21 1079.21,507.52C1081.70,506.84 1084.19,506.11 1086.68,505.35C1089.17,504.59 1091.66,503.78 1094.15,502.93C1096.65,502.08 1099.14,501.20 1101.63,500.25C1104.12,499.31 1106.61,498.32 1109.10,497.28C1111.59,496.24 1114.08,495.15 1116.57,493.99C1119.06,492.84 1121.55,491.63 1124.04,490.35C1126.53,489.08 1129.02,487.75 1131.51,486.34C1134.00,484.94 1136.49,483.47 1138.98,481.92C1141.47,480.38 1143.96,478.76 1146.45,477.07C1148.94,475.37 1151.43,473.60 1153.92,471.74C1156.42,469.88 1158.91,467.95 1161.40,465.92C1163.89,463.89 1166.38,461.77 1168.87,459.56C1171.36,457.35 1173.85,455.05 1176.34,452.65C1178.83,450.25 1181.32,447.76 1183.81,445.16C1186.30,442.56 1188.79,439.87 1191.28,437.06C1193.77,434.26 1196.26,431.36 1198.75,428.35C1201.24,425.34 1203.73,422.23 1206.22,419.02C1208.71,415.80 1211.20,412.48 1213.70,409.05C1216.19,405.62 1218.68,402.09 1221.17,398.46C1223.66,394.84 1226.15,391.10 1228.64,387.28C1231.13,383.45 1233.62,379.52 1236.11,375.51C1238.60,371.50 1241.09,367.39 1243.58,363.21C1246.07,359.02 1248.56,354.75 1251.05,350.41C1253.54,346.08 1256.03,341.66 1258.52,337.19C1261.01,332.72 1263.50,328.18 1265.99,323.61C1268.48,319.04 1270.97,314.40 1273.47,309.75C1275.96,305.09 1278.45,300.39 1280.94,295.69C1283.43,290.98 1285.92,286.25 1288.41,281.52C1290.90,276.80 1293.39,272.06 1295.88,267.35C1298.37,262.63 1300.86,257.92 1303.35,253.25C1305.84,248.58 1308.33,243.92 1310.82,239.33C1313.31,234.73 1315.80,230.16 1318.29,225.66C1320.78,221.17 1323.27,216.71 1325.76,212.34C1328.25,207.97 1330.74,203.65 1333.23,199.43C1335.73,195.20 1338.22,191.05 1340.71,186.99C1343.20,182.93 1345.69,178.96 1348.18,175.08C1350.67,171.21 1353.16,167.42 1355.65,163.74C1358.14,160.06 1360.63,156.47 1363.12,152.99C1365.61,149.51 1368.10,146.14 1370.59,142.86C1373.08,139.59 1375.57,136.42 1378.06,133.36C1380.55,130.30 1383.04,127.34 1385.53,124.49C1388.02,121.63 1390.51,118.88 1393.01,116.23C1395.50,113.58 1397.99,111.04 1400.48,108.58C1402.97,106.13 1405.46,103.78 1407.95,101.52C1410.44,99.26 1412.93,97.10 1415.42,95.02C1417.91,92.95 1420.40,90.97 1422.89,89.06C1425.38,87.16 1427.87,85.35 1430.36,83.61C1432.85,81.87 1435.34,80.22 1437.83,78.63C1440.32,77.05 1442.81,75.54 1445.30,74.10C1447.79,72.66 1450.28,71.30 1452.78,69.99C1455.27,68.68 1457.76,67.44 1460.25,66.26C1462.74,65.07 1465.23,63.95 1467.72,62.88C1470.21,61.81 1472.70,60.79 1475.19,59.83C1477.68,58.86 1480.17,57.94 1482.66,57.07C1485.15,56.20 1487.64,55.37 1490.13,54.59C1492.62,53.80 1495.11,53.06 1497.60,52.35C1500.09,51.65 1502.58,50.98 1505.07,50.34C1507.56,49.71 1510.05,49.11 1512.55,48.54C1515.04,47.97 1517.53,47.43 1520.02,46.92C1522.51,46.40 1525.00,45.92 1527.49,45.46C1529.98,45.00 1532.47,44.57 1534.96,44.16C1537.45,43.75 1539.94,43.36 1542.43,42.99C1544.92,42.62 1547.41,42.28 1549.90,41.95C1552.39,41.62 1554.88,41.31 1557.37,41.01C1559.86,40.72 1562.35,40.44 1564.84,40.17C1567.33,39.91 1569.82,39.66 1572.32,39.43C1574.81,39.19 1577.30,38.97 1579.79,38.76C1582.28,38.55 1584.77,38.35 1587.26,38.16C1589.75,37.97 1592.24,37.79 1594.73,37.63C1597.22,37.46 1600.95,37.23 1602.20,37.15" stroke="#000" stroke-width="3.3" stroke-dasharray="5.5 7.2" stroke-linecap="round"/>
<path d="M1004.50,517.52C1005.75,517.35 1009.48,516.85 1011.97,516.49C1014.46,516.13 1016.95,515.75 1019.44,515.34C1021.93,514.93 1024.42,514.51 1026.91,514.06C1029.40,513.60 1031.89,513.13 1034.38,512.62C1036.88,512.12 1039.37,511.59 1041.86,511.03C1044.35,510.46 1046.84,509.87 1049.33,509.25C1051.82,508.62 1054.31,507.97 1056.80,507.27C1059.29,506.57 1061.78,505.84 1064.27,505.07C1066.76,504.29 1069.25,503.48 1071.74,502.62C1074.23,501.76 1076.72,500.86 1079.21,499.90C1081.70,498.95 1084.19,497.95 1086.68,496.89C1089.17,495.84 1091.66,494.73 1094.15,493.56C1096.65,492.39 1099.14,491.17 1101.63,489.88C1104.12,488.59 1106.61,487.24 1109.10,485.82C1111.59,484.40 1114.08,482.91 1116.57,481.35C1119.06,479.78 1121.55,478.15 1124.04,476.44C1126.53,474.72 1129.02,472.93 1131.51,471.05C1134.00,469.17 1136.49,467.21 1138.98,465.16C1141.47,463.11 1143.96,460.97 1146.45,458.74C1148.94,456.51 1151.43,454.18 1153.92,451.76C1156.42,449.33 1158.91,446.82 1161.40,444.19C1163.89,441.57 1166.38,438.85 1168.87,436.02C1171.36,433.20 1173.85,430.27 1176.34,427.23C1178.83,424.20 1181.32,421.06 1183.81,417.82C1186.30,414.58 1188.79,411.23 1191.28,407.78C1193.77,404.33 1196.26,400.77 1198.75,397.12C1201.24,393.46 1203.73,389.70 1206.22,385.85C1208.71,382.00 1211.20,378.05 1213.70,374.02C1216.19,369.99 1218.68,365.86 1221.17,361.65C1223.66,357.45 1226.15,353.16 1228.64,348.80C1231.13,344.45 1233.62,340.02 1236.11,335.53C1238.60,331.05 1241.09,326.50 1243.58,321.91C1246.07,317.33 1248.56,312.68 1251.05,308.02C1253.54,303.36 1256.03,298.65 1258.52,293.94C1261.01,289.24 1263.50,284.50 1265.99,279.77C1268.48,275.05 1270.97,270.31 1273.47,265.60C1275.96,260.89 1278.45,256.18 1280.94,251.52C1283.43,246.86 1285.92,242.21 1288.41,237.62C1290.90,233.04 1293.39,228.48 1295.88,224.00C1298.37,219.52 1300.86,215.08 1303.35,210.72C1305.84,206.37 1308.33,202.07 1310.82,197.87C1313.31,193.66 1315.80,189.53 1318.29,185.49C1320.78,181.46 1323.27,177.50 1325.76,173.65C1328.25,169.80 1330.74,166.04 1333.23,162.38C1335.73,158.72 1338.22,155.16 1340.71,151.71C1343.20,148.26 1345.69,144.90 1348.18,141.66C1350.67,138.41 1353.16,135.27 1355.65,132.23C1358.14,129.20 1360.63,126.26 1363.12,123.43C1365.61,120.61 1368.10,117.88 1370.59,115.26C1373.08,112.63 1375.57,110.11 1378.06,107.68C1380.55,105.25 1383.04,102.93 1385.53,100.69C1388.02,98.45 1390.51,96.32 1393.01,94.26C1395.50,92.21 1397.99,90.25 1400.48,88.36C1402.97,86.48 1405.46,84.69 1407.95,82.97C1410.44,81.25 1412.93,79.62 1415.42,78.05C1417.91,76.49 1420.40,75.00 1422.89,73.57C1425.38,72.15 1427.87,70.80 1430.36,69.51C1432.85,68.22 1435.34,66.99 1437.83,65.82C1440.32,64.65 1442.81,63.54 1445.30,62.48C1447.79,61.43 1450.28,60.43 1452.78,59.47C1455.27,58.51 1457.76,57.61 1460.25,56.75C1462.74,55.89 1465.23,55.08 1467.72,54.30C1470.21,53.52 1472.70,52.79 1475.19,52.09C1477.68,51.40 1480.17,50.74 1482.66,50.11C1485.15,49.48 1487.64,48.89 1490.13,48.33C1492.62,47.76 1495.11,47.23 1497.60,46.73C1500.09,46.22 1502.58,45.75 1505.07,45.29C1507.56,44.84 1510.05,44.41 1512.55,44.01C1515.04,43.60 1517.53,43.22 1520.02,42.86C1522.51,42.49 1525.00,42.15 1527.49,41.83C1529.98,41.50 1532.47,41.19 1534.96,40.90C1537.45,40.61 1539.94,40.34 1542.43,40.08C1544.92,39.82 1547.41,39.57 1549.90,39.34C1552.39,39.11 1554.88,38.89 1557.37,38.68C1559.86,38.47 1562.35,38.28 1564.84,38.09C1567.33,37.90 1569.82,37.73 1572.32,37.56C1574.81,37.40 1577.30,37.24 1579.79,37.09C1582.28,36.95 1584.77,36.81 1587.26,36.67C1589.75,36.54 1592.24,36.42 1594.73,36.30C1597.22,36.18 1600.95,36.02 1602.20,35.96" stroke="#000" stroke-width="3.6" stroke-linecap="round"/>
<path d="M1004.50,513.92C1005.75,513.68 1009.48,512.98 1011.97,512.47C1014.46,511.96 1016.95,511.43 1019.44,510.86C1021.93,510.29 1024.42,509.69 1026.91,509.06C1029.40,508.43 1031.89,507.76 1034.38,507.06C1036.88,506.35 1039.37,505.61 1041.86,504.83C1044.35,504.05 1046.84,503.23 1049.33,502.36C1051.82,501.49 1054.31,500.58 1056.80,499.61C1059.29,498.65 1061.78,497.64 1064.27,496.57C1066.76,495.51 1069.25,494.39 1071.74,493.21C1074.23,492.03 1076.72,490.79 1079.21,489.49C1081.70,488.19 1084.19,486.83 1086.68,485.39C1089.17,483.95 1091.66,482.46 1094.15,480.88C1096.65,479.30 1099.14,477.65 1101.63,475.92C1104.12,474.19 1106.61,472.38 1109.10,470.48C1111.59,468.59 1114.08,466.61 1116.57,464.54C1119.06,462.47 1121.55,460.32 1124.04,458.07C1126.53,455.81 1129.02,453.47 1131.51,451.03C1134.00,448.58 1136.49,446.04 1138.98,443.40C1141.47,440.76 1143.96,438.02 1146.45,435.17C1148.94,432.32 1151.43,429.37 1153.92,426.32C1156.42,423.26 1158.91,420.10 1161.40,416.84C1163.89,413.58 1166.38,410.21 1168.87,406.74C1171.36,403.26 1173.85,399.69 1176.34,396.01C1178.83,392.34 1181.32,388.56 1183.81,384.69C1186.30,380.82 1188.79,376.85 1191.28,372.80C1193.77,368.75 1196.26,364.60 1198.75,360.38C1201.24,356.17 1203.73,351.86 1206.22,347.49C1208.71,343.12 1211.20,338.67 1213.70,334.18C1216.19,329.69 1218.68,325.12 1221.17,320.53C1223.66,315.93 1226.15,311.28 1228.64,306.61C1231.13,301.95 1233.62,297.23 1236.11,292.52C1238.60,287.81 1241.09,283.07 1243.58,278.35C1246.07,273.62 1248.56,268.89 1251.05,264.18C1253.54,259.48 1256.03,254.77 1258.52,250.12C1261.01,245.46 1263.50,240.82 1265.99,236.24C1268.48,231.67 1270.97,227.12 1273.47,222.65C1275.96,218.18 1278.45,213.75 1280.94,209.41C1283.43,205.07 1285.92,200.79 1288.41,196.60C1290.90,192.41 1293.39,188.30 1295.88,184.28C1298.37,180.26 1300.86,176.33 1303.35,172.49C1305.84,168.66 1308.33,164.92 1310.82,161.28C1313.31,157.64 1315.80,154.11 1318.29,150.67C1320.78,147.24 1323.27,143.91 1325.76,140.68C1328.25,137.46 1330.74,134.34 1333.23,131.32C1335.73,128.31 1338.22,125.40 1340.71,122.59C1343.20,119.78 1345.69,117.07 1348.18,114.47C1350.67,111.86 1353.16,109.36 1355.65,106.95C1358.14,104.55 1360.63,102.24 1363.12,100.02C1365.61,97.80 1368.10,95.68 1370.59,93.65C1373.08,91.61 1375.57,89.67 1378.06,87.80C1380.55,85.94 1383.04,84.16 1385.53,82.46C1388.02,80.75 1390.51,79.13 1393.01,77.58C1395.50,76.03 1397.99,74.56 1400.48,73.15C1402.97,71.74 1405.46,70.40 1407.95,69.12C1410.44,67.84 1412.93,66.63 1415.42,65.47C1417.91,64.31 1420.40,63.22 1422.89,62.17C1425.38,61.12 1427.87,60.13 1430.36,59.18C1432.85,58.24 1435.34,57.35 1437.83,56.49C1440.32,55.64 1442.81,54.84 1445.30,54.07C1447.79,53.30 1450.28,52.58 1452.78,51.88C1455.27,51.19 1457.76,50.54 1460.25,49.92C1462.74,49.30 1465.23,48.72 1467.72,48.16C1470.21,47.60 1472.70,47.08 1475.19,46.58C1477.68,46.08 1480.17,45.61 1482.66,45.16C1485.15,44.71 1487.64,44.29 1490.13,43.89C1492.62,43.49 1495.11,43.11 1497.60,42.75C1500.09,42.39 1502.58,42.05 1505.07,41.73C1507.56,41.41 1510.05,41.10 1512.55,40.82C1515.04,40.53 1517.53,40.26 1520.02,40.00C1522.51,39.74 1525.00,39.50 1527.49,39.27C1529.98,39.04 1532.47,38.82 1534.96,38.62C1537.45,38.41 1539.94,38.22 1542.43,38.03C1544.92,37.85 1547.41,37.68 1549.90,37.51C1552.39,37.35 1554.88,37.20 1557.37,37.05C1559.86,36.90 1562.35,36.77 1564.84,36.63C1567.33,36.50 1569.82,36.38 1572.32,36.26C1574.81,36.15 1577.30,36.04 1579.79,35.93C1582.28,35.83 1584.77,35.73 1587.26,35.64C1589.75,35.54 1592.24,35.46 1594.73,35.37C1597.22,35.29 1600.95,35.18 1602.20,35.14" stroke="#7c7c7c" stroke-width="3.2" stroke-dasharray="9 13" stroke-linecap="round"/>
<path d="M1004.50,509.21C1005.75,508.87 1009.48,507.92 1011.97,507.22C1014.46,506.52 1016.95,505.79 1019.44,505.01C1021.93,504.24 1024.42,503.42 1026.91,502.56C1029.40,501.70 1031.89,500.79 1034.38,499.84C1036.88,498.88 1039.37,497.88 1041.86,496.82C1044.35,495.76 1046.84,494.65 1049.33,493.48C1051.82,492.31 1054.31,491.09 1056.80,489.79C1059.29,488.50 1061.78,487.15 1064.27,485.72C1066.76,484.30 1069.25,482.81 1071.74,481.24C1074.23,479.68 1076.72,478.04 1079.21,476.32C1081.70,474.60 1084.19,472.81 1086.68,470.92C1089.17,469.04 1091.66,467.08 1094.15,465.02C1096.65,462.97 1099.14,460.83 1101.63,458.59C1104.12,456.35 1106.61,454.02 1109.10,451.59C1111.59,449.16 1114.08,446.64 1116.57,444.01C1119.06,441.39 1121.55,438.66 1124.04,435.83C1126.53,433.00 1129.02,430.07 1131.51,427.03C1134.00,423.99 1136.49,420.85 1138.98,417.60C1141.47,414.35 1143.96,411.00 1146.45,407.54C1148.94,404.09 1151.43,400.53 1153.92,396.87C1156.42,393.21 1158.91,389.45 1161.40,385.59C1163.89,381.74 1166.38,377.78 1168.87,373.75C1171.36,369.71 1173.85,365.57 1176.34,361.37C1178.83,357.16 1181.32,352.86 1183.81,348.51C1186.30,344.15 1188.79,339.71 1191.28,335.23C1193.77,330.74 1196.26,326.19 1198.75,321.60C1201.24,317.01 1203.73,312.37 1206.22,307.70C1208.71,303.04 1211.20,298.33 1213.70,293.62C1216.19,288.91 1218.68,284.17 1221.17,279.45C1223.66,274.73 1226.15,269.99 1228.64,265.28C1231.13,260.57 1233.62,255.86 1236.11,251.20C1238.60,246.54 1241.09,241.90 1243.58,237.31C1246.07,232.73 1248.56,228.17 1251.05,223.69C1253.54,219.21 1256.03,214.78 1258.52,210.43C1261.01,206.07 1263.50,201.78 1265.99,197.58C1268.48,193.38 1270.97,189.25 1273.47,185.22C1275.96,181.19 1278.45,177.24 1280.94,173.39C1283.43,169.54 1285.92,165.78 1288.41,162.13C1290.90,158.48 1293.39,154.92 1295.88,151.47C1298.37,148.03 1300.86,144.68 1303.35,141.44C1305.84,138.20 1308.33,135.06 1310.82,132.03C1313.31,128.99 1315.80,126.07 1318.29,123.24C1320.78,120.42 1323.27,117.70 1325.76,115.08C1328.25,112.46 1330.74,109.94 1333.23,107.52C1335.73,105.09 1338.22,102.77 1340.71,100.54C1343.20,98.31 1345.69,96.17 1348.18,94.12C1350.67,92.07 1353.16,90.11 1355.65,88.24C1358.14,86.36 1360.63,84.57 1363.12,82.85C1365.61,81.14 1368.10,79.51 1370.59,77.95C1373.08,76.38 1375.57,74.90 1378.06,73.48C1380.55,72.06 1383.04,70.71 1385.53,69.42C1388.02,68.13 1390.51,66.91 1393.01,65.74C1395.50,64.57 1397.99,63.47 1400.48,62.41C1402.97,61.36 1405.46,60.36 1407.95,59.41C1410.44,58.45 1412.93,57.55 1415.42,56.69C1417.91,55.83 1420.40,55.02 1422.89,54.25C1425.38,53.47 1427.87,52.74 1430.36,52.05C1432.85,51.35 1435.34,50.69 1437.83,50.07C1440.32,49.44 1442.81,48.85 1445.30,48.29C1447.79,47.73 1450.28,47.20 1452.78,46.69C1455.27,46.19 1457.76,45.72 1460.25,45.26C1462.74,44.81 1465.23,44.39 1467.72,43.98C1470.21,43.58 1472.70,43.19 1475.19,42.83C1477.68,42.47 1480.17,42.13 1482.66,41.80C1485.15,41.48 1487.64,41.17 1490.13,40.88C1492.62,40.59 1495.11,40.32 1497.60,40.06C1500.09,39.80 1502.58,39.56 1505.07,39.32C1507.56,39.09 1510.05,38.87 1512.55,38.67C1515.04,38.46 1517.53,38.26 1520.02,38.08C1522.51,37.89 1525.00,37.72 1527.49,37.55C1529.98,37.39 1532.47,37.23 1534.96,37.08C1537.45,36.94 1539.94,36.80 1542.43,36.66C1544.92,36.53 1547.41,36.41 1549.90,36.29C1552.39,36.17 1554.88,36.06 1557.37,35.96C1559.86,35.85 1562.35,35.75 1564.84,35.66C1567.33,35.57 1569.82,35.48 1572.32,35.39C1574.81,35.31 1577.30,35.23 1579.79,35.16C1582.28,35.08 1584.77,35.01 1587.26,34.95C1589.75,34.88 1592.24,34.82 1594.73,34.76C1597.22,34.70 1600.95,34.62 1602.20,34.59" stroke="#6e6e6e" stroke-width="3.2" stroke-dasharray="21.6 13" stroke-linecap="round"/>
<path d="M1004.50,503.00C1005.75,502.55 1009.48,501.26 1011.97,500.32C1014.46,499.38 1016.95,498.40 1019.44,497.36C1021.93,496.32 1024.42,495.23 1026.91,494.08C1029.40,492.93 1031.89,491.72 1034.38,490.45C1036.88,489.18 1039.37,487.85 1041.86,486.45C1044.35,485.05 1046.84,483.58 1049.33,482.04C1051.82,480.50 1054.31,478.89 1056.80,477.19C1059.29,475.50 1061.78,473.73 1064.27,471.88C1066.76,470.03 1069.25,468.09 1071.74,466.07C1074.23,464.04 1076.72,461.93 1079.21,459.73C1081.70,457.52 1084.19,455.23 1086.68,452.83C1089.17,450.43 1091.66,447.95 1094.15,445.35C1096.65,442.76 1099.14,440.07 1101.63,437.27C1104.12,434.48 1106.61,431.58 1109.10,428.58C1111.59,425.57 1114.08,422.47 1116.57,419.26C1119.06,416.04 1121.55,412.73 1124.04,409.31C1126.53,405.89 1129.02,402.36 1131.51,398.74C1134.00,395.11 1136.49,391.38 1138.98,387.56C1141.47,383.74 1143.96,379.82 1146.45,375.81C1148.94,371.80 1151.43,367.70 1153.92,363.52C1156.42,359.34 1158.91,355.07 1161.40,350.74C1163.89,346.41 1166.38,341.99 1168.87,337.53C1171.36,333.06 1173.85,328.52 1176.34,323.95C1178.83,319.38 1181.32,314.75 1183.81,310.09C1186.30,305.44 1188.79,300.74 1191.28,296.04C1193.77,291.34 1196.26,286.60 1198.75,281.88C1201.24,277.15 1203.73,272.41 1206.22,267.70C1208.71,262.99 1211.20,258.27 1213.70,253.60C1216.19,248.93 1218.68,244.27 1221.17,239.67C1223.66,235.07 1226.15,230.50 1228.64,226.00C1231.13,221.50 1233.62,217.04 1236.11,212.67C1238.60,208.29 1241.09,203.97 1243.58,199.74C1246.07,195.52 1248.56,191.36 1251.05,187.30C1253.54,183.23 1256.03,179.25 1258.52,175.37C1261.01,171.49 1263.50,167.70 1265.99,164.01C1268.48,160.33 1270.97,156.74 1273.47,153.25C1275.96,149.77 1278.45,146.39 1280.94,143.11C1283.43,139.83 1285.92,136.66 1288.41,133.59C1290.90,130.52 1293.39,127.56 1295.88,124.70C1298.37,121.84 1300.86,119.09 1303.35,116.43C1305.84,113.77 1308.33,111.22 1310.82,108.77C1313.31,106.31 1315.80,103.96 1318.29,101.69C1320.78,99.43 1323.27,97.26 1325.76,95.18C1328.25,93.10 1330.74,91.11 1333.23,89.21C1335.73,87.30 1338.22,85.48 1340.71,83.74C1343.20,82.00 1345.69,80.34 1348.18,78.75C1350.67,77.16 1353.16,75.66 1355.65,74.21C1358.14,72.77 1360.63,71.40 1363.12,70.09C1365.61,68.77 1368.10,67.53 1370.59,66.34C1373.08,65.16 1375.57,64.03 1378.06,62.96C1380.55,61.88 1383.04,60.87 1385.53,59.90C1388.02,58.93 1390.51,58.01 1393.01,57.14C1395.50,56.26 1397.99,55.44 1400.48,54.65C1402.97,53.86 1405.46,53.12 1407.95,52.41C1410.44,51.70 1412.93,51.03 1415.42,50.39C1417.91,49.75 1420.40,49.15 1422.89,48.58C1425.38,48.01 1427.87,47.47 1430.36,46.96C1432.85,46.44 1435.34,45.96 1437.83,45.50C1440.32,45.04 1442.81,44.60 1445.30,44.19C1447.79,43.78 1450.28,43.39 1452.78,43.02C1455.27,42.65 1457.76,42.30 1460.25,41.97C1462.74,41.64 1465.23,41.33 1467.72,41.03C1470.21,40.74 1472.70,40.46 1475.19,40.19C1477.68,39.93 1480.17,39.68 1482.66,39.44C1485.15,39.21 1487.64,38.98 1490.13,38.77C1492.62,38.56 1495.11,38.36 1497.60,38.17C1500.09,37.98 1502.58,37.81 1505.07,37.64C1507.56,37.47 1510.05,37.31 1512.55,37.16C1515.04,37.01 1517.53,36.87 1520.02,36.73C1522.51,36.60 1525.00,36.47 1527.49,36.35C1529.98,36.23 1532.47,36.12 1534.96,36.01C1537.45,35.90 1539.94,35.80 1542.43,35.71C1544.92,35.61 1547.41,35.52 1549.90,35.44C1552.39,35.35 1554.88,35.27 1557.37,35.20C1559.86,35.12 1562.35,35.05 1564.84,34.98C1567.33,34.91 1569.82,34.85 1572.32,34.79C1574.81,34.73 1577.30,34.67 1579.79,34.62C1582.28,34.56 1584.77,34.51 1587.26,34.46C1589.75,34.41 1592.24,34.37 1594.73,34.33C1597.22,34.28 1600.95,34.23 1602.20,34.21" stroke="#6e6e6e" stroke-width="3.2" stroke-dasharray="21.6 12.9 0.01 13 0.01 12.9" stroke-linecap="round"/>
</g></g>
<g stroke="#333" stroke-width="1.4" fill="none">
<path d="M1004.5,34.0V557.5999999999999"/>
<path d="M996.9,549.8H1602.9"/>
<path d="M996.9,498.29H1004.5"/>
<path d="M996.9,446.78H1004.5"/>
<path d="M996.9,395.27H1004.5"/>
<path d="M996.9,343.76H1004.5"/>
<path d="M996.9,292.25H1004.5"/>
<path d="M996.9,240.74H1004.5"/>
<path d="M996.9,189.23H1004.5"/>
<path d="M996.9,137.72H1004.5"/>
<path d="M996.9,86.21H1004.5"/>
<path d="M996.9,34.70H1004.5"/>
<path d="M1153.92,549.8V557.5999999999999"/>
<path d="M1303.35,549.8V557.5999999999999"/>
<path d="M1452.78,549.8V557.5999999999999"/>
<path d="M1602.20,549.8V557.5999999999999"/>
</g>
<g fill="#000">
<text y="31.4" font-family='"Liberation Sans", sans-serif' fill="#0a0a0a"><tspan x="874.62" y="28.7" font-size="33.5" textLength="9.55" lengthAdjust="spacingAndGlyphs">(</tspan><tspan x="885.32" y="31.4" font-size="35.5" textLength="21.39" lengthAdjust="spacingAndGlyphs">b</tspan><tspan x="906.83" y="28.7" font-size="33.5" textLength="9.92" lengthAdjust="spacingAndGlyphs">)</tspan></text>
<text y="556.6" font-family='"Liberation Serif", serif' font-weight="bold"><tspan x="972.49" font-size="25" textLength="11.91" lengthAdjust="spacingAndGlyphs">0</tspan></text>
<text y="506.2" font-family='"Liberation Serif", serif' font-weight="bold"><tspan x="959.98" font-size="25" textLength="24.45" lengthAdjust="spacingAndGlyphs">10</tspan></text>
<text y="454.6" font-family='"Liberation Serif", serif' font-weight="bold"><tspan x="959.98" font-size="25" textLength="24.45" lengthAdjust="spacingAndGlyphs">20</tspan></text>
<text y="402.6" font-family='"Liberation Serif", serif' font-weight="bold"><tspan x="959.98" font-size="25" textLength="24.45" lengthAdjust="spacingAndGlyphs">30</tspan></text>
<text y="350.9" font-family='"Liberation Serif", serif' font-weight="bold"><tspan x="959.98" font-size="25" textLength="24.45" lengthAdjust="spacingAndGlyphs">40</tspan></text>
<text y="298.8" font-family='"Liberation Serif", serif' font-weight="bold"><tspan x="959.98" font-size="25" textLength="24.45" lengthAdjust="spacingAndGlyphs">50</tspan></text>
<text y="248.8" font-family='"Liberation Serif", serif' font-weight="bold"><tspan x="959.98" font-size="25" textLength="24.45" lengthAdjust="spacingAndGlyphs">60</tspan></text>
<text y="197.1" font-family='"Liberation Serif", serif' font-weight="bold"><tspan x="959.98" font-size="25" textLength="24.45" lengthAdjust="spacingAndGlyphs">70</tspan></text>
<text y="145.2" font-family='"Liberation Serif", serif' font-weight="bold"><tspan x="959.98" font-size="25" textLength="24.45" lengthAdjust="spacingAndGlyphs">80</tspan></text>
<text y="93.5" font-family='"Liberation Serif", serif' font-weight="bold"><tspan x="959.98" font-size="25" textLength="24.45" lengthAdjust="spacingAndGlyphs">90</tspan></text>
<text y="41.8" font-family='"Liberation Serif", serif' font-weight="bold"><tspan x="945.64" font-size="25" textLength="38.85" lengthAdjust="spacingAndGlyphs">100</tspan></text>
<text y="586.5" font-family='"Liberation Serif", serif' stroke="#000" stroke-width="0.35"><tspan x="988.70" font-size="24.5" textLength="29.37" lengthAdjust="spacingAndGlyphs">7.5</tspan></text>
<text y="586.5" font-family='"Liberation Serif", serif' stroke="#000" stroke-width="0.35"><tspan x="1139.10" font-size="24.5" textLength="28.03" lengthAdjust="spacingAndGlyphs">8.5</tspan></text>
<text y="586.5" font-family='"Liberation Serif", serif' stroke="#000" stroke-width="0.35"><tspan x="1288.91" font-size="24.5" textLength="28.53" lengthAdjust="spacingAndGlyphs">9.5</tspan></text>
<text y="586.5" font-family='"Liberation Serif", serif' stroke="#000" stroke-width="0.35"><tspan x="1432.31" font-size="24.5" textLength="40.54" lengthAdjust="spacingAndGlyphs">10.5</tspan></text>
<text y="586.5" font-family='"Liberation Serif", serif' stroke="#000" stroke-width="0.35"><tspan x="1581.40" font-size="24.5" textLength="40.86" lengthAdjust="spacingAndGlyphs">11.5</tspan></text>
<text y="624.9" font-family='"Liberation Serif", serif' font-weight="bold"><tspan x="1286.08" font-size="28.8" textLength="33.23" lengthAdjust="spacingAndGlyphs">pH</tspan></text>
<text transform="translate(947.8,351.4) rotate(-90)" y="0" font-family='"Liberation Serif", serif' font-weight="bold"><tspan x="-0.09" font-size="36.3" textLength="101.60" lengthAdjust="spacingAndGlyphs">% NH</tspan><tspan x="101.70" y="6.9" font-size="24" textLength="13.31" lengthAdjust="spacingAndGlyphs">3</tspan></text>
<g fill="none">
<path d="M1564.6,250.1H1619.3" stroke="#000" stroke-width="3.1" stroke-dasharray="0.01 6.33" stroke-linecap="round"/>
<path d="M1564.6,283.3H1619.3" stroke="#000" stroke-width="3.1" stroke-dasharray="5.5 7.2" stroke-linecap="round"/>
<path d="M1564.6,316.3H1619.3" stroke="#000" stroke-width="3.3" stroke-linecap="round"/>
<path d="M1564.6,349.4H1619.3" stroke="#7c7c7c" stroke-width="3.2" stroke-dasharray="9 13" stroke-linecap="round"/>
<path d="M1564.6,382.5H1619.3" stroke="#6e6e6e" stroke-width="3.3" stroke-dasharray="21.6 13" stroke-linecap="round"/>
<path d="M1564.6,415.3H1619.3" stroke="#6e6e6e" stroke-width="3.3" stroke-dasharray="21.6 12.9 0.01 13 0.01 12.9" stroke-linecap="round"/>
</g>
<text y="257.4" font-family='"Liberation Serif", serif' font-size="25.4" stroke="#000" stroke-width="0.35"><tspan x="1626.75" textLength="23.50" lengthAdjust="spacingAndGlyphs">15</tspan><tspan x="1650.24" dy="1.2" textLength="7.28" lengthAdjust="spacingAndGlyphs">º</tspan><tspan x="1657.53" dy="-1.2" textLength="15.67" lengthAdjust="spacingAndGlyphs">C</tspan></text>
<path d="M1650.64,250.70h6.28" stroke="#a6a6a6" stroke-width="0.7" fill="none"/>
<text y="290.2" font-family='"Liberation Serif", serif' font-size="25.4" stroke="#000" stroke-width="0.35"><tspan x="1626.75" textLength="23.50" lengthAdjust="spacingAndGlyphs">20</tspan><tspan x="1650.24" dy="1.2" textLength="7.28" lengthAdjust="spacingAndGlyphs">º</tspan><tspan x="1657.53" dy="-1.2" textLength="15.67" lengthAdjust="spacingAndGlyphs">C</tspan></text>
<path d="M1650.64,283.50h6.28" stroke="#a6a6a6" stroke-width="0.7" fill="none"/>
<text y="323.1" font-family='"Liberation Serif", serif' font-size="25.4" stroke="#000" stroke-width="0.35"><tspan x="1626.75" textLength="23.50" lengthAdjust="spacingAndGlyphs">25</tspan><tspan x="1650.24" dy="1.2" textLength="7.28" lengthAdjust="spacingAndGlyphs">º</tspan><tspan x="1657.53" dy="-1.2" textLength="15.67" lengthAdjust="spacingAndGlyphs">C</tspan></text>
<path d="M1650.64,316.40h6.28" stroke="#a6a6a6" stroke-width="0.7" fill="none"/>
<text y="356.0" font-family='"Liberation Serif", serif' font-size="25.4" stroke="#000" stroke-width="0.35"><tspan x="1626.75" textLength="23.50" lengthAdjust="spacingAndGlyphs">30</tspan><tspan x="1650.24" dy="1.2" textLength="7.28" lengthAdjust="spacingAndGlyphs">º</tspan><tspan x="1657.53" dy="-1.2" textLength="15.67" lengthAdjust="spacingAndGlyphs">C</tspan></text>
<path d="M1650.64,349.30h6.28" stroke="#a6a6a6" stroke-width="0.7" fill="none"/>
<text y="388.9" font-family='"Liberation Serif", serif' font-size="25.4" stroke="#000" stroke-width="0.35"><tspan x="1626.75" textLength="23.50" lengthAdjust="spacingAndGlyphs">35</tspan><tspan x="1650.24" dy="1.2" textLength="7.28" lengthAdjust="spacingAndGlyphs">º</tspan><tspan x="1657.53" dy="-1.2" textLength="15.67" lengthAdjust="spacingAndGlyphs">C</tspan></text>
<path d="M1650.64,382.20h6.28" stroke="#a6a6a6" stroke-width="0.7" fill="none"/>
<text y="421.8" font-family='"Liberation Serif", serif' font-size="25.4" stroke="#000" stroke-width="0.35"><tspan x="1626.75" textLength="23.50" lengthAdjust="spacingAndGlyphs">40</tspan><tspan x="1650.24" dy="1.2" textLength="7.28" lengthAdjust="spacingAndGlyphs">º</tspan><tspan x="1657.53" dy="-1.2" textLength="15.67" lengthAdjust="spacingAndGlyphs">C</tspan></text>
<path d="M1650.64,415.10h6.28" stroke="#a6a6a6" stroke-width="0.7" fill="none"/>
</g></g>
</svg>
</body></html>
